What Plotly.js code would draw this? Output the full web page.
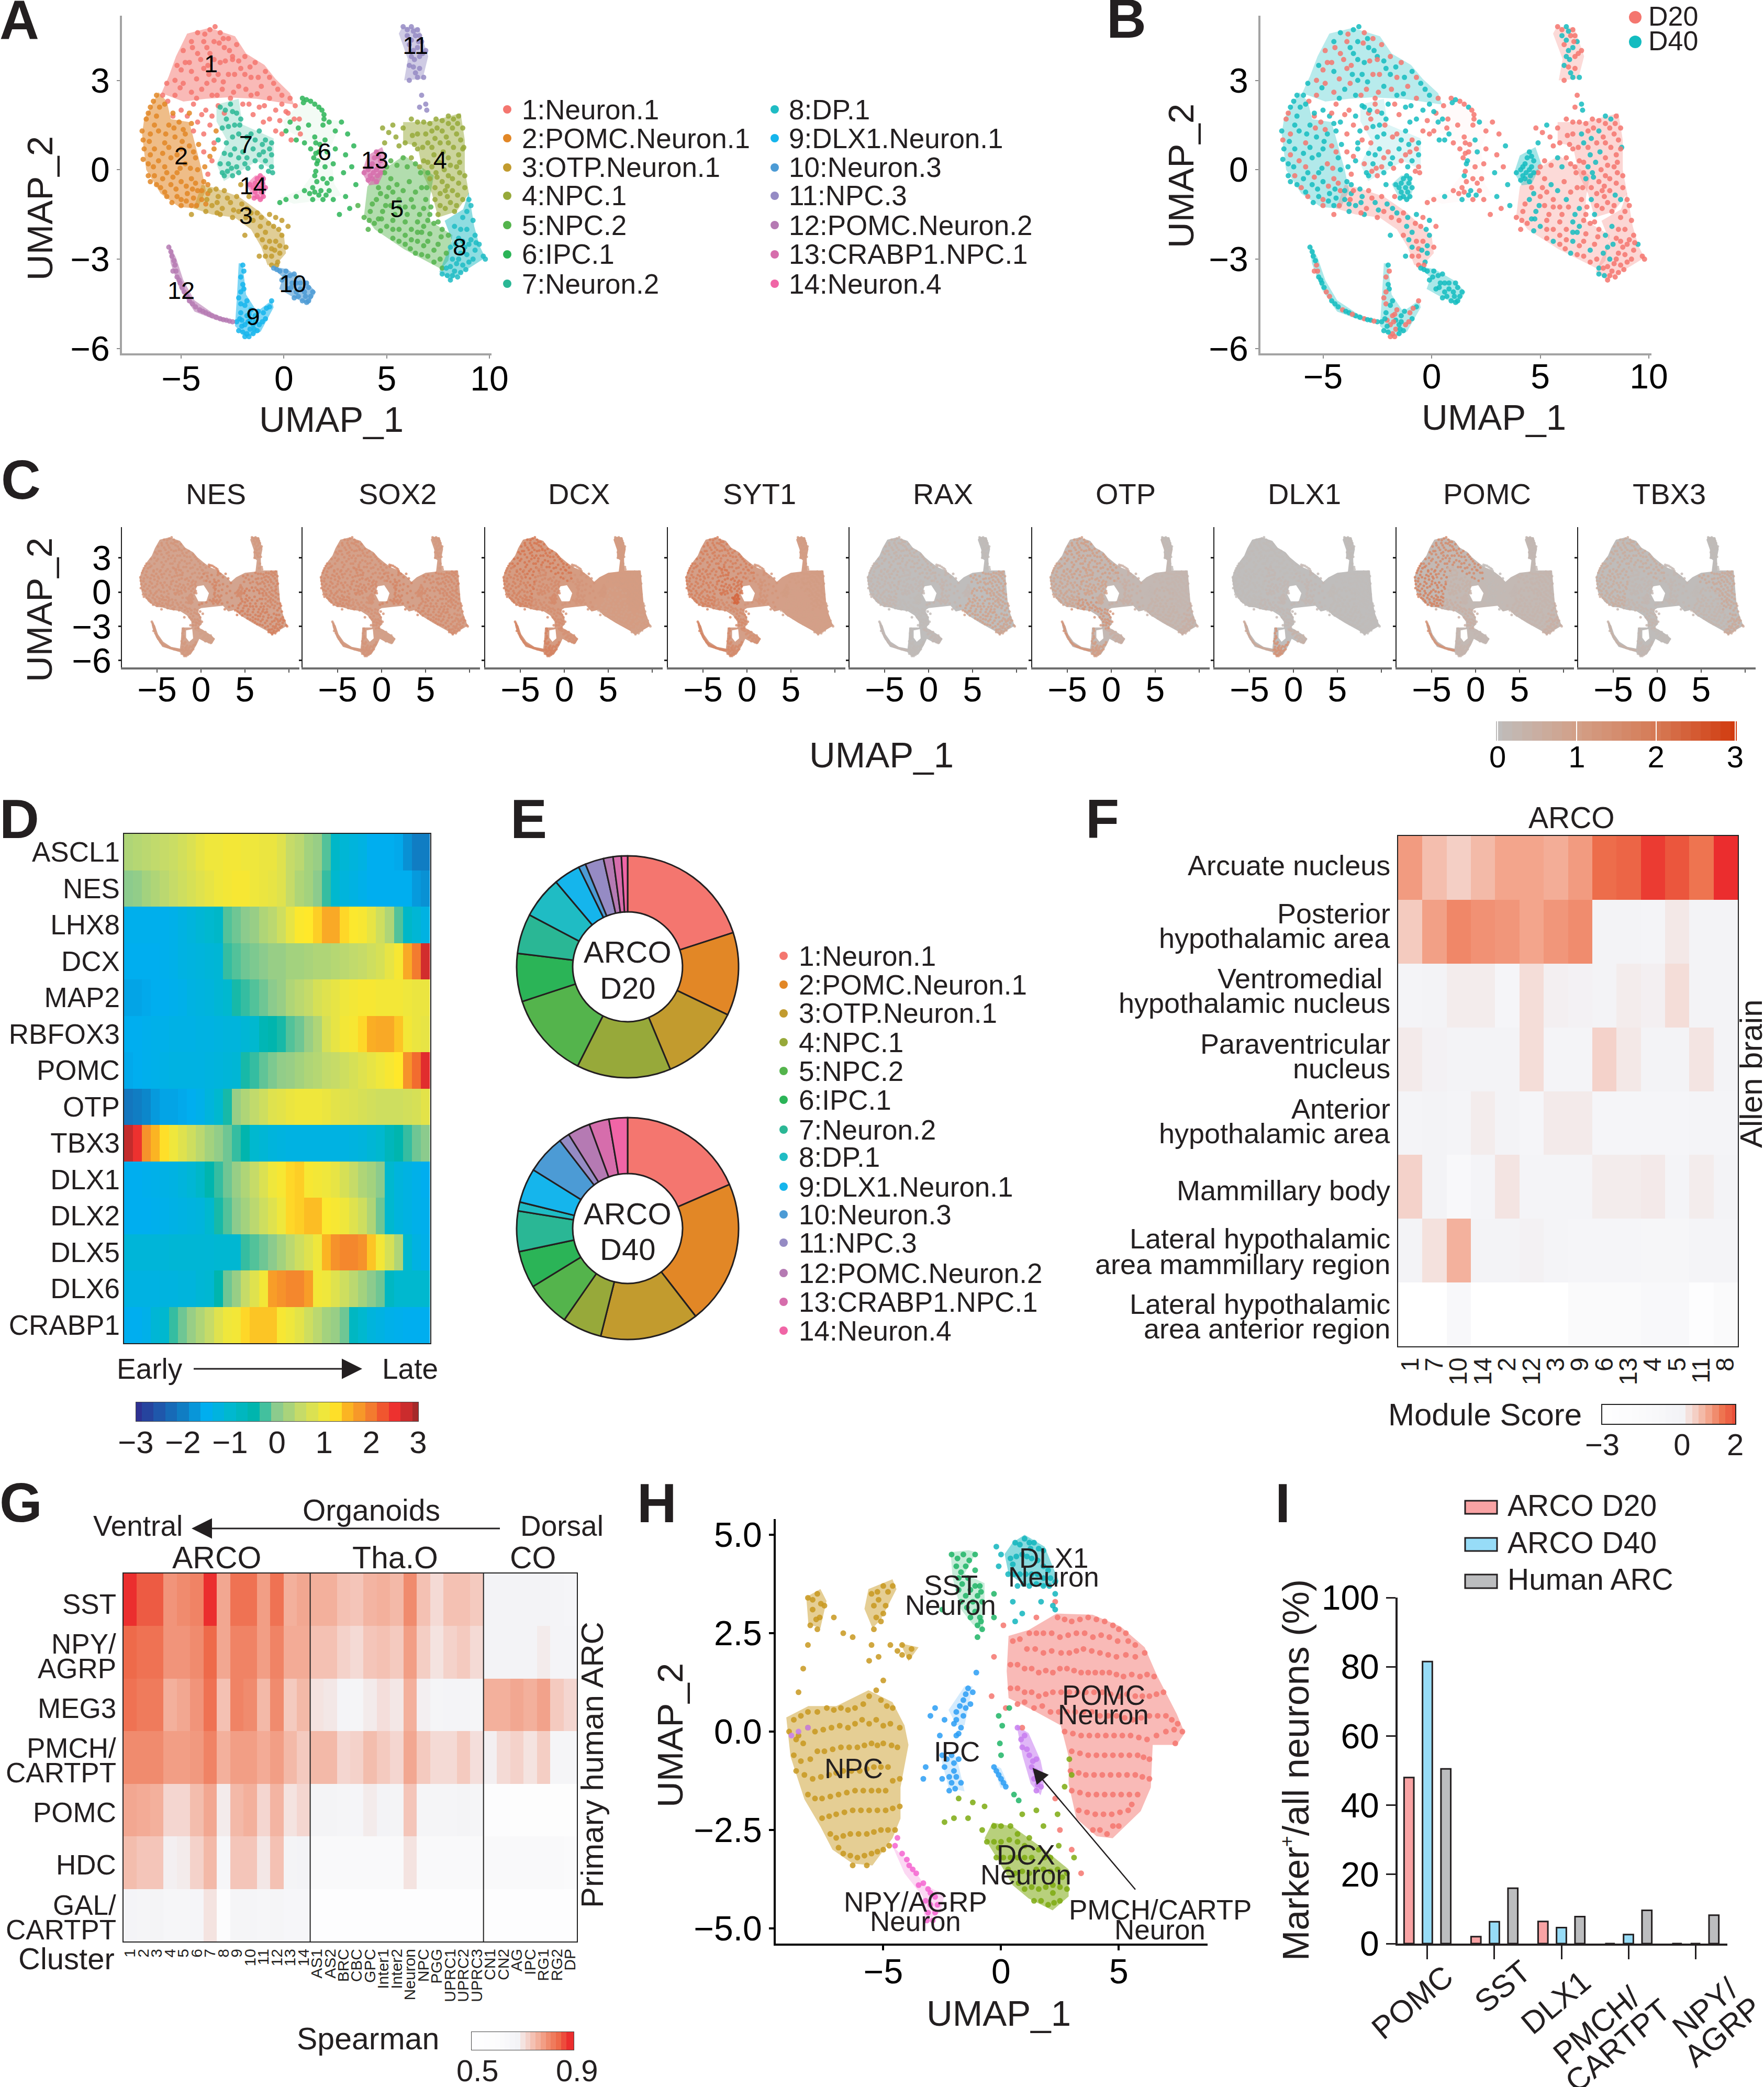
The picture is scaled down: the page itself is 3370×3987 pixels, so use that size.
<!DOCTYPE html>
<html>
<head>
<meta charset="utf-8">
<script src="https://cdn.plot.ly/plotly-3.0.1.min.js"></script>
<style>html,body{margin:0;padding:0;background:#fff}</style>
</head>
<body>
<div id="fig" style="width:3370px;height:3987px"></div>
<script>
var W = 3370, H = 3987;
var FONT = 'Liberation Sans, Arial, sans-serif';
var INK = '#231f20';

var clusterNames = ['1:Neuron.1','2:POMC.Neuron.1','3:OTP.Neuron.1','4:NPC.1','5:NPC.2','6:IPC.1','7:Neuron.2','8:DP.1','9:DLX1.Neuron.1','10:Neuron.3','11:NPC.3','12:POMC.Neuron.2','13:CRABP1.NPC.1','14:Neuron.4'];
var clusterColors = ['#f4766f','#e28726','#c29b2e','#97a93a','#54b44c','#2bb457','#2ab795','#1fbcc4','#15b5ec','#4c9bd5','#958bc4','#b57ab3','#d66dac','#f065a6'];
var polyOpacity = [.5,.55,.5,.5,.45,.06,.25,.5,.55,.6,.45,.6,.65,.55];

// cluster outlines (UMAP units, x,y,x,y...)
var polyA1 = [-3.63,4.76,-2.38,4.48,-1.84,3.9,-.95,3.52,-.41,3.05,.3,2.57,.48,2.19,-1.31,2.38,-2.74,2.43,-3.81,2.38,-4.89,2.29,-5.96,2.57,-5.6,3.14,-5.25,3.81,-4.71,4.57];
var polyA2 = [-6.1,2.6,-6.8,1.7,-6.9,1.2,-6.7,0,-6,-.8,-5.1,-1.25,-4.2,-1.3,-3.8,-.7,-4,0,-4.3,.8,-4.6,1.6,-5.5,1.7,-5.7,2.3];
var polyA3 = [-4,-.5,-3.4,-.6,-2.2,-.9,-1.2,-1.4,-.6,-1.8,0,-2.2,.1,-2.8,-.4,-3.2,-.8,-3.2,-1.1,-2.6,-1.6,-2,-2.4,-1.6,-3.5,-1.5,-4.4,-1.3];
var polyA4 = [5.8,1.6,7,1.6,8.6,1.9,8.8,1,8.8,0,9,-.8,8.4,-1.4,7.5,-1.6,7.2,-.8,6.8,-.2,6.5,.8,5.8,.9];
var polyA5 = [4.42,-.19,5.85,.48,7.29,-.19,7.1,-.95,7.1,-1.71,8.2,-2.19,8,-3.05,7.65,-3.33,5.85,-2.67,4.42,-2,3.9,-1.52,4.06,-.57];
var polyA6 = [-.05,1.62,1.02,2.43,1.92,2.05,2.1,1.71,2.81,1.62,2.27,.76,2.45,-.48,2.81,-.86,1.56,-1.05,.48,-1.14,-.23,-.95,.84,-.67,1.56,0,1.38,.86,.13,1.33];
var polyA7 = [-3.28,2.19,-2.2,2.38,-2.02,1.52,-.5,1.05,-.5,0,-1.31,.29,-2.92,-.38,-3.28,.19,-2.74,.95,-3.28,1.62];
var polyA8 = [8.99,-.76,9.26,-1.9,9.53,-2.57,9.8,-2.95,8.72,-3.43,8.1,-3.71,7.56,-3.43,8.18,-2.38,7.82,-1.71,8.72,-1.33];
var polyA9 = [-2.02,-3.14,-1.84,-4.19,-1.31,-4.76,-.59,-4.38,-.5,-4.62,-1.13,-5.43,-1.84,-5.62,-2.38,-5.24,-2.29,-4.29,-2.2,-3.14];
var polyA10 = [-.59,-3.24,.13,-3.33,1.02,-3.71,1.56,-4.1,1.2,-4.52,.48,-4.29,-.23,-4,-.05,-3.62];
var polyA11 = [5.77,4.81,6.57,4.76,7.02,3.81,6.75,3.05,5.85,3,6.03,3.71,5.59,4.57];
var polyA12 = [-5.6,-2.48,-5.25,-2.95,-4.89,-3.71,-4.35,-4.38,-3.46,-4.81,-2.47,-5.1,-3.28,-5.05,-4.35,-4.76,-5.07,-4,-5.51,-3.14];
var polyA13 = [4.78,.76,5.05,.19,4.6,-.48,4.15,-.52,3.8,-.1,4.06,.48];
var polyA14 = [-1.4,-.19,-.95,-.19,-.86,-.67,-1.04,-1.05,-1.49,-.95,-1.84,-.48];

// cell positions, per cluster
var ptsA1 = [-3.6,4.7,-3.1,4.6,-4.2,4.6,-2.7,4.4,-3.4,4.3,-3.9,4.3,-4.5,4.3,-2.3,4.2,-2.9,4.1,-4.9,4,-3.6,3.9,-4.2,3.9,-2.5,3.8,-1.9,3.8,-3.1,3.6,-4.8,3.6,-5.2,3.5,-1.4,3.6,-2.1,3.4,-3.9,3.4,-4.5,3.3,-2.7,3.2,-.9,3.3,-1.6,3.1,-3.4,3,-5.3,3,-5.7,2.9,-4.9,2.9,-.5,2.9,-1.1,2.8,-2.2,2.8,-3,2.7,-4,2.7,-4.5,2.6,-5.9,2.5,-5.3,2.5,-3.5,2.5,-2.6,2.4,-1.6,2.5,-.7,2.4,-.1,2.5,.3,2.4,-1.2,2.1,-4.4,2.2,-5,2,-3.8,2,-.4,2,.2,1.9,.5,1.7,-5.4,1.8,-4.2,1.6,-3.6,1.5,.8,1.2,-2.5,3.7,-3.2,3.2,-3.7,3.5,
    -3.35,4.8,-3.85,4.55,-2.95,4.4,-3.15,4.25,-3.75,4.1,-4.45,4.1,-2.65,4,-4.05,3.7,-3.4,3.7,-2.85,3.65,-2.2,3.65,-4.6,3.6,-1.65,3.45,-5,3.35,-3.65,3.2,-2.4,3.2,-1.9,3.2,-4.25,3.05,-1.25,3.1,-.7,3.1,-2.95,2.95,-3.75,2.9,-5.05,2.75,-2.45,2.6,-.3,2.7,-1.85,2.7,-1.3,2.55,-3.25,2.5,-4.25,2.4,-5.65,2.3,-.95,2.15,-1.7,2.2,-.1,2.2,.55,2.15,-3.2,2.15,-2.9,1.9,-4.7,1.8,-4,1.85,-3.5,1.8,-1.5,1.85,-.7,1.7,-.2,1.65,.1,1.95,.75,1.7,-4.4,1.3,-3.9,1.2,-3.4,.9,-3.9,.6,-3.5,.3,-3.7,-.15,-1,1.6,-.4,1.3,-2,2.2,-.1,1.2,.35,1];
var ptsA2 = [-6.2,2.5,-6.5,2.1,-6.7,1.7,-6.2,1.8,-6.9,1.3,-6.5,1.2,-6.1,1.3,-5.6,1.5,-5.1,1.6,-4.8,1.2,-5.3,1.1,-5.8,.9,-6.3,.7,-6.8,.7,-4.6,.8,-5,.7,-5.5,.4,-6.1,.3,-6.6,.2,-4.3,.4,-4.8,.2,-5.2,-.1,-5.7,-.1,-6.3,-.2,-6.6,-.2,-4.2,0,-4.5,-.3,-5,-.4,-5.5,-.5,-6,-.6,-6.2,-.5,-3.9,-.4,-4.2,-.7,-4.7,-.8,-5.2,-.9,-5.7,-.9,-4,-1,-4.5,-1.2,-5,-1.2,-3.7,-.8,-5.4,1.9,-4.9,1.35,-6.55,.95,-5.9,.55,-5.4,-.25,-4.4,-.95,
    -6.35,2.3,-6.6,1.9,-6.05,2.1,-5.8,2.2,-6.85,1,-6.3,1.5,-5.75,1.2,-5.35,1.4,-4.5,1.55,-5.6,.75,-6.5,.5,-6.85,.35,-5.2,.5,-4.4,.6,-4.95,.95,-4.15,.85,-5.8,.1,-6.35,.1,-5.05,.05,-4.55,.05,-6.5,-.4,-5.9,-.3,-4.75,-.55,-5.25,-.65,-5.8,-.75,-4.3,-.45,-4,-.7,-4.45,-.65,-5,-1,-5.45,-1.1,-3.8,-1.15,-4.25,-1.2,-4.75,-1.05,-3.85,.1,-3.6,.45,-3.4,.7,-3.3,1.3,-4.6,1.9,-3.7,-.5];
var ptsA3 = [-3.6,-.7,-3.2,-.9,-2.9,-.7,-3.5,-1.2,-3,-1.3,-2.6,-1.1,-2.3,-.9,-3.8,-1.4,-2.2,-1.4,-1.8,-1.3,-1.5,-1.7,-1.1,-1.6,-1.3,-2.2,-.9,-2.1,-.5,-1.9,-.9,-2.6,-.4,-2.4,-.1,-2.2,-.6,-2.9,-.2,-2.8,-.6,-3.2,-.3,-3.1,.1,-2.6,-1.2,-2.9,-4.5,-1.5,-3.1,-1.5,-2.5,-1.6,-.7,-1.5,.2,-1.9,-2.1,-.5,-1.7,-.9,
    -3.3,-.65,-3.75,-1,-3.25,-1.1,-2.75,-.95,-2.45,-1.35,-3.25,-1.45,-2.05,-1.15,-1.85,-1.6,-1.6,-1.45,-1.3,-1.45,-1.15,-1.9,-.75,-1.8,-1.05,-2.35,-.7,-2.4,-.25,-2,-.6,-2.65,-.2,-2.55,-.9,-2.9,-.45,-2.7,-.35,-3.2,-1.9,-2.2,-.4,-1.6,-.1,-1.7];
var ptsA4 = [6.2,1.7,6.8,1.6,7.4,1.7,8,1.8,8.5,1.8,8.7,1.4,8.2,1.4,7.7,1.3,7.2,1.3,6.5,1.2,5.8,1.4,5.3,1.5,8.6,1,8,.9,7.6,.9,7,.9,6.5,.7,8.5,.5,8,.4,7.3,.5,6.8,.3,8.4,.1,7.8,0,7.2,.1,8.8,-.2,8.2,-.3,7.7,-.4,7.1,-.3,8.8,-.6,8.2,-.7,7.6,-.8,8.7,-1,8.1,-1.1,7.6,-1.2,8.3,-1.4,7.5,-1.5,6.6,.1,5.9,.9,4.8,1.4,8.75,.75,7.95,-.9,6.2,.4,5.6,.8,7.4,-.1,
    6.5,1.6,7.1,1.55,7.7,1.65,8.25,1.7,8.45,1.55,8,1.55,7.45,1.4,6.9,1.2,6.25,1.15,8.4,1.2,7.9,1.1,7.35,1.05,6.75,.75,8.7,.7,8.25,.75,7.75,.6,7.2,.75,8.55,.25,8.1,.15,7.55,.25,7,.25,8.55,-.1,8,-.2,7.45,-.25,8.5,-.45,7.95,-.55,7.35,-.6,8.45,-.85,7.85,-.7,8.4,-1.2,7.85,-1.3,7.35,-1,6.35,.85,5.45,1.1,5.1,1.25,4.9,.9];
var ptsA5 = [4.6,-.6,5.2,-.3,5.8,.4,6.4,.2,7,-.1,5.5,-.5,6.1,-.4,6.7,-.6,4.5,-1,5,-.9,5.6,-1,6.2,-1,6.9,-1,4.2,-1.4,4.8,-1.4,5.4,-1.5,6,-1.5,6.6,-1.5,7.1,-1.5,4.4,-1.8,5,-1.9,5.6,-2,6.2,-2,6.8,-1.9,7.3,-1.8,7.7,-2,8,-2.2,5.3,-2.3,5.9,-2.5,6.5,-2.4,7,-2.4,7.5,-2.5,6.4,-2.8,7,-2.9,7.6,-3,7.9,-2.8,3.9,-1.6,4.1,-2,3.6,-1.2,5.2,.3,4.9,-.1,6.7,-2.1,5.2,-1.2,5.9,-1.25,4.6,-1.65,
    5,.1,5.5,.15,6,.1,6.65,-.1,5.1,-.6,5.8,-.7,6.4,-.75,6.95,-.6,4.7,-.8,5.3,-.75,4.3,-1.15,4.95,-1.2,5.6,-1.25,6.3,-1.25,6.8,-1.3,7.15,-1.25,4.15,-1.7,4.75,-1.65,5.3,-1.7,5.9,-1.75,6.5,-1.75,7,-1.7,7.5,-1.75,4.7,-2.05,5.3,-2,5.9,-2.2,6.5,-2.1,7.1,-2.15,7.65,-2.25,5.6,-2.4,6.2,-2.35,6.8,-2.55,7.3,-2.7,6.7,-2.85,7.3,-3.1,7.7,-3.3,6.15,-2.65];
var ptsA6 = [.9,2.4,1.3,2.3,1.7,2.1,1.95,1.85,1.9,1.5,.3,1.6,.7,1.4,1.2,1.5,2.2,1.6,2.8,1.6,.1,1.3,.6,1,1,.9,1.5,1.1,2,1,2.5,1.3,3.1,1.2,3.4,.8,1.3,.7,1.7,.6,2.1,.6,2.5,.7,3,.5,1.6,.2,2,.1,2.4,.2,1.5,-.2,1.9,-.3,2.3,-.3,2.9,-.1,3.3,.1,1.4,-.6,1.8,-.7,2.2,-.7,1,-.7,1.4,-1,1.9,-1,2.4,-1,.6,-.9,.1,-1,-.2,-1.1,3,-.9,3.2,-1.3,2.7,-1.5,3.5,-.5,2.1,-.45,1.75,.85,
    1.1,2.35,1.5,2.2,1.85,2,.95,2.25,1.95,1.7,1.55,.55,1.65,.3,1.55,-.05,1.6,-.4,1.7,-.85,1.25,-.8,1.5,-.75,2.05,-.85,1.55,.9,1.45,.4];
var ptsA7 = [-3.1,2.1,-2.6,2.2,-2.3,1.9,-2.8,1.7,-2.4,1.5,-3,1.4,-2.2,1.2,-1.8,1.1,-1.4,1,-.9,1,-.6,.9,-2.8,.9,-2.4,.7,-2,.6,-1.5,.7,-1,.6,-.6,.5,-3.1,.2,-2.7,.2,-2.3,.1,-1.9,.2,-1.4,.3,-.9,.3,-.6,.1,-2.9,-.2,-2.5,-.2,-1.2,1.3,-3.2,1,-2.1,1.7,-.55,-.1,
    -2.85,2,-2.5,1.95,-2.7,1.45,-2.15,1.5,-2.5,1.1,-1.6,1.2,-1.05,.85,-.7,.7,-2.6,.5,-2.2,.4,-1.8,.4,-1.2,.5,-2.9,.55,-2.75,-.05,-2.2,-.1,-1.75,.05,-1.1,.1,-.75,-.05,-3,-.1,-2.55,.05];
var ptsA8 = [9,-1,8.9,-1.4,9.2,-1.7,8.7,-1.6,8.3,-1.9,8.9,-2,9.3,-2.2,8.5,-2.3,9,-2.5,8.1,-2.6,8.6,-2.8,9.3,-2.7,9.7,-2.9,9.8,-3,8.2,-3,8.7,-3.2,9,-3.1,7.9,-3.3,8.3,-3.4,7.7,-3.5,8.1,-3.7,8.6,-3.45,8.2,-3.55,9.2,-3,9.5,-2.5,
    9.1,-1.2,8.6,-2,9.1,-2.35,8.8,-2.6,8.35,-2.5,8.9,-2.85,8.4,-3.15,8.85,-3.35,8.45,-3.6,7.95,-3.55,8.1,-3.25,8.7,-2.4,9.35,-2.45,8.5,-3];
var ptsA9 = [-2,-3.2,-2.1,-3.6,-1.95,-4,-2.2,-4.3,-1.8,-4.4,-1.6,-4.7,-2.1,-4.8,-1.8,-4.9,-1.4,-4.9,-1,-4.8,-.7,-4.6,-.6,-4.4,-2.3,-5.1,-1.9,-5.2,-1.5,-5.2,-1.2,-5.2,-2.2,-5.4,-1.8,-5.5,-1.5,-5.5,-1.9,-5.6,-1.3,-5.4,-2.1,-4.5,-.9,-5,-2.05,-5.05,-1.65,-5.05,
    -1.95,-3.4,-2,-3.85,-2.1,-4.1,-1.9,-4.55,-1.7,-4.85,-1.25,-4.75,-.85,-4.65,-2.15,-5,-1.75,-5.1,-1.4,-5.1,-1.05,-5.1,-2.05,-5.25,-1.65,-5.35,-2,-5.45,-1.7,-5.6,-1.45,-5.35];
var ptsA10 = [-.5,-3.3,-.2,-3.4,.1,-3.4,.5,-3.5,-.1,-3.7,.4,-3.8,.8,-3.8,1.1,-3.8,.2,-4,.6,-4.1,1,-4.1,1.4,-4.1,.5,-4.3,.9,-4.4,1.2,-4.4,1.3,-4.25,
    -.35,-3.35,.3,-3.55,.05,-3.6,.6,-3.8,.35,-3.95,.8,-4,1.2,-3.95,.7,-4.25,1.05,-4.25,1.1,-4.45];
var ptsA11 = [5.8,4.8,6.2,4.8,6.5,4.7,6,4.5,6.4,4.5,6.7,4.3,6.1,4.2,6.5,4.1,6.9,4,6.2,3.8,6.6,3.8,6.1,3.5,6.6,3.4,6.5,3.1,6.1,3,6.8,3.1,6.7,2.5,6.9,2.2,6.6,2.1,6.95,2,
    6,4.7,6.3,4.65,6.6,4.5,6.2,4.35,6.55,4.3,6.3,4,6.75,3.9,6.35,3.7,6.3,3.45,6.4,3.25];
var ptsA12 = [-5.6,-2.6,-5.45,-2.9,-5.3,-3.2,-5.2,-3.6,-5.05,-3.8,-4.85,-4.1,-4.6,-4.4,-4.3,-4.6,-4.1,-4.7,-3.8,-4.8,-3.5,-4.9,-3.1,-5,-2.8,-5.05,-2.5,-5.1,-5.4,-3.4,
    -5.5,-2.75,-5.35,-3.05,-5.25,-3.4,-5.1,-3.7,-4.95,-3.95,-4.7,-4.25,-4.45,-4.5,-3.95,-4.75,-3.65,-4.85,-3.3,-4.95,-2.95,-5.03,-2.65,-5.08];
var ptsA13 = [4.5,.6,4.7,.3,4.3,.2,4.5,0,4.1,0,4.7,-.1,4.3,-.3,4.5,-.4,3.9,-.1,
    4.6,.45,4.4,.4,4.2,.1,4.6,.1,4.35,-.1,4.55,-.2,4.2,-.2,4.1,-.35];
var ptsA14 = [-1.3,-.3,-1,-.3,-1.5,-.6,-1.2,-.6,-.9,-.6,-1.3,-.9,-1,-.9,
    -1.15,-.2,-1.4,-.45,-1.05,-.45,-1.65,-.5,-1.4,-.75,-1.1,-.75,-1.45,-.95,-1.15,-1];
var polysA = [polyA1,polyA2,polyA3,polyA4,polyA5,polyA6,polyA7,polyA8,polyA9,polyA10,polyA11,polyA12,polyA13,polyA14];
var ptsA = [ptsA1,ptsA2,ptsA3,ptsA4,ptsA5,ptsA6,ptsA7,ptsA8,ptsA9,ptsA10,ptsA11,ptsA12,ptsA13,ptsA14];

var labelAx = [-3.55,-5,-1.85,7.6,5.5,1.97,-1.85,8.55,-1.5,.43,6.4,-5,4.42,-1.5];
var labelAy = [3.48,.38,-1.62,.24,-1.38,.52,.78,-2.67,-5,-3.9,4.1,-4.12,.24,-.62];

// panel B: day of sampling seen per cluster, r = D20, t = D40, repeated along the cluster's cells
var dayPattern = ['tr','ttr','rt','rrrt','rrt','rrt','tr','rrrrt','tr','t','rt','ttr','t','t'];
var dayColors = {r:'#f4766f', t:'#14bcc0'};

// silhouette of the whole map, used as the backing of the gene panels
var outlineMain = [-3.6,4.8,-2.4,4.5,-1.8,3.9,-.9,3.5,-.4,3.05,.3,2.6,1,2.2,1.9,1.9,2.8,1.4,3.4,.9,4,1.3,5,1.7,6.2,1.8,6.35,2.8,6,3,6,3.7,5.6,4.6,5.8,4.85,6.6,4.8,7,3.8,6.8,3,6.85,1.9,8.7,1.9,8.85,.5,9,-.8,9.3,-1.9,9.8,-2.95,8.7,-3.45,8.1,-3.75,7.5,-3.4,5.85,-2.7,4.4,-2,3.9,-1.55,3.1,-1.7,2.5,-1.2,1.2,-1.3,0,-1.4,-.4,-1.6,0,-2.2,.1,-2.8,-.3,-3.1,.2,-3.3,1,-3.7,1.6,-4.1,1.2,-4.55,.4,-4.35,-.2,-4.1,-.5,-4.6,-1.1,-5.4,-1.85,-5.65,-2.45,-5.25,-3.3,-5.05,-4.4,-4.8,-5.1,-4,-5.55,-3.1,-5.65,-2.5,-5.25,-2.9,-4.9,-3.7,-4.3,-4.35,-3.4,-4.8,-2.4,-4.95,-2.3,-4.3,-2.2,-3.1,-1.1,-3.1,-1.1,-2.6,-1.6,-2.05,-2.4,-1.65,-3.5,-1.55,-4.4,-1.35,-5.1,-1.3,-6,-.85,-6.75,0,-7,1.2,-6.8,1.75,-6.1,2.7,-5.6,3.2,-5.25,3.85,-4.7,4.6];
var outlineHole = [-.5,.5,.3,.6,.9,-.1,.6,-.8,-.3,-.8,-.7,-.2];
var outlineHole2 = [-1.7,-3.35,-1,-3.25,-.9,-4.05,-1.35,-4.35,-1.7,-4];

var geneNames = ['NES','SOX2','DCX','SYT1','RAX','OTP','DLX1','POMC','TBX3'];
var geneBackColor = ['#d3a48f','#d4a18a','#d59c82','#d49f88','#bfbdbc','#c3b8b3','#bfbdbc','#c3b9b4','#bfbcba'];
var exprNES  = [1.3,1.4,1.3,1.7,1.9,1.7,1.4,1.9,1.2,1,1.2,1.2,1.6,1.3];
var exprSOX2 = [1.5,1.6,1.4,1.6,1.6,1.7,1.6,1.5,1.3,1,1.2,1.2,1.5,1.4];
var exprDCX  = [2.1,1.8,1.5,1.1,1,1.3,1.6,1,1.8,1.4,1.1,1.7,1.2,1.6];
var exprSYT1 = [1.9,1.9,1.6,1.1,1,1.3,2.1,1,1.6,1.4,1.1,1.7,1.1,2.4];
var exprRAX  = [.4,.3,.1,.9,1,.3,.2,.9,.1,.2,.1,.2,.2,.1];
var exprOTP  = [1.1,.9,1.3,.3,.4,.5,1,.5,1.1,.5,.1,1.3,.2,.8];
var exprDLX1 = [.1,.1,.2,.05,.1,.2,.2,.05,1.4,.4,.1,.7,.1,.2];
var exprPOMC = [1.6,1.9,.5,.3,.3,.1,.4,.5,.3,.2,.2,1.4,.2,.3];
var exprTBX3 = [.6,.6,.3,.7,.3,.2,.2,.7,.2,.1,.1,.4,.1,.2];
var exprAll = [exprNES,exprSOX2,exprDCX,exprSYT1,exprRAX,exprOTP,exprDLX1,exprPOMC,exprTBX3];
var keyC = [0,.125,.25,.375,.5,.625,.75,.875,1,1.125,1.25,1.375,1.5,1.625,1.75,1.875,2,2.125,2.25,2.375,2.5,2.625,2.75,2.875,3];
var scaleC = [[0,'#bfbdbc'],[.33,'#d2a088'],[.67,'#d67a55'],[1,'#d13a0e']];

// panel D
var genesD = ['ASCL1','NES','LHX8','DCX','MAP2','RBFOX3','POMC','OTP','TBX3','DLX1','DLX2','DLX5','DLX6','CRABP1'];
var rowASCL1 = [.3,.35,.4,.45,.5,.55,.65,.75,.9,1,1,1.05,1.05,1,1,.95,.95,.8,.5,.4,.2,.1,-.2,-.9,-1.1,-1.2,-1.3,-1.5,-1.5,-1.5,-1.55,-1.8,-2,-2];
var rowNES = [0,.05,.2,.3,.4,.5,.6,.7,.8,.9,1,1.05,1.1,1.1,1,.95,.9,.8,.5,.3,.2,0,-.3,-1,-1.2,-1.3,-1.4,-1.5,-1.5,-1.5,-1.5,-1.5,-1.7,-1.8];
var rowLHX8 = [-1.45,-1.45,-1.45,-1.45,-1.45,-1.4,-1.3,-1.2,-1.1,-1,-.9,-.2,-.1,0,.1,.3,.4,.6,.9,1.15,1.2,1.35,1.6,1.6,1.3,1.15,1.1,.9,.6,.3,-.2,-.9,-1.1,-1.3];
var rowDCX = [-1.5,-1.5,-1.5,-1.5,-1.45,-1.4,-1.3,-1.25,-1.2,-1.15,-1.1,-.3,-.2,-.1,-.05,0,.1,.1,.2,.2,.25,.3,.3,.35,.4,.45,.5,.6,.7,.9,1.1,1.6,2,2.7];
var rowMAP2 = [-1.6,-1.6,-1.55,-1.5,-1.5,-1.45,-1.4,-1.3,-1.25,-1.2,-1.1,-1,-.4,-.3,-.2,-.1,0,.1,.3,.4,.5,.7,.8,.9,1,1.05,1.1,1.1,1.05,1.05,1.05,1,.95,.95];
var rowRBFOX3 = [-1.5,-1.5,-1.45,-1.4,-1.4,-1.35,-1.35,-1.35,-1.3,-1.3,-1.25,-1.2,-1.2,-1.1,-1,-.6,-.5,-.4,-.2,-.1,.1,.3,.7,.9,1.05,1.1,1.3,1.55,1.6,1.6,1.4,1.05,.95,.9];
var rowPOMC = [-1.55,-1.5,-1.45,-1.4,-1.35,-1.3,-1.3,-1.3,-1.3,-1.25,-1.2,-1.15,-1.1,-.4,-.3,-.15,-.05,.05,.1,.2,.3,.35,.45,.5,.6,.7,.8,.9,1,1.1,1.2,1.8,2.1,2.6];
var rowOTP = [-2.1,-2,-1.9,-1.7,-1.6,-1.6,-1.55,-1.5,-1.4,-1.2,-1,-.4,.1,.3,.45,.6,.8,.85,.95,1,1,1,.95,.85,.8,.75,.7,.65,.6,.6,.6,.65,.7,.85];
var rowTBX3 = [2.8,2.5,1.8,1.5,1.25,1,.8,.6,.4,.2,.05,-.1,-.3,-.5,-1,-1.1,-1.2,-1.25,-1.3,-1.3,-1.3,-1.3,-1.3,-1.3,-1.3,-1.25,-1.2,-1.1,-1,-.7,-.5,-.3,-.1,0];
var rowDLX1 = [-1.5,-1.5,-1.45,-1.4,-1.35,-1.3,-1.2,-1.1,-.9,-.5,-.3,-.1,.1,.3,.5,.75,1,1.1,1.3,1.35,1.1,1.05,1,.9,.7,.5,.3,.2,0,-1,-1.2,-1.3,-1.4,-1.5];
var rowDLX2 = [-1.5,-1.5,-1.5,-1.45,-1.4,-1.35,-1.3,-1.25,-1.2,-1,-.4,-.2,0,.2,.4,.6,.8,1,1.3,1.35,1.45,1.45,1.15,1.1,1,.8,.6,.3,-.1,-1,-1.2,-1.3,-1.4,-1.45];
var rowDLX5 = [-1.15,-1.15,-1.15,-1.15,-1.15,-1.1,-1.1,-1.1,-1.1,-1.1,-1.05,-1.05,-1.05,-.3,-.2,-.1,0,.2,.4,.6,.8,1,1.5,1.8,1.9,1.9,1.8,1.4,1.05,.7,.3,-1,-1.3,-1.4];
var rowDLX6 = [-1.3,-1.3,-1.3,-1.3,-1.25,-1.25,-1.2,-1.2,-1.1,-1.05,-.5,-.1,.1,.5,.8,1.05,1.7,1.8,1.9,1.9,1.7,1.05,1,.8,.6,.4,.2,0,-.1,-.8,-1,-1,-1,-1];
var rowCRABP1 = [-1.5,-1.5,-1.4,-1.1,-1,-.3,-.1,.1,.3,.5,.8,1,1.05,1.3,1.4,1.4,1.4,1.1,1,.85,.6,.4,.2,.1,-.1,-.8,-1,-1.2,-1.3,-1.4,-1.45,-1.5,-1.5,-1.5];
var heatD = [rowASCL1,rowNES,rowLHX8,rowDCX,rowMAP2,rowRBFOX3,rowPOMC,rowOTP,rowTBX3,rowDLX1,rowDLX2,rowDLX5,rowDLX6,rowCRABP1];
var keyD = [-3,-2.75,-2.5,-2.25,-2,-1.75,-1.5,-1.25,-1,-.75,-.5,-.25,0,.25,.5,.75,1,1.25,1.5,1.75,2,2.25,2.5,2.75,3];
var scaleD = [[0,'#2e3192'],[.17,'#0f7fc4'],[.25,'#00aeef'],[.33,'#00b8d0'],[.42,'#00b5ad'],[.5,'#8ccb8d'],[.58,'#c4db6a'],[.67,'#f1e73a'],[.7,'#ffe82a'],[.75,'#fbb423'],[.83,'#f37e2f'],[.92,'#ed2e2f'],[1,'#a52a2a']];

// panel E, share of cells per cluster
var pieD20 = [20,12.1,11.6,13.7,12.5,7,5.8,6.1,3.9,1.05,2.7,1.4,1.2,.9];
var pieD40 = [18.5,21,14.4,5.75,6.6,5.4,5.9,1.3,5,5.7,1.55,3.3,2.9,2.7];
var legendEy = [1826,1881,1936,1991,2046,2101,2158,2210,2267,2320,2374,2432,2487,2542];

// panel F
var colsF = ['1','7','10','14','2','12','3','9','6','13','4','5','11','8'];
var rowArcuate = [1.1,.7,.5,.75,1,1,.9,1.1,1.6,1.7,2.3,1.9,1.5,2.5];
var rowPosterior = [.55,1.05,1.3,1.2,1.15,1,1.15,1.25,0,0,-.2,.15,0,0];
var rowVentro = [-.3,-.1,.1,.1,-.4,.3,.05,.02,0,.1,.05,.3,0,0];
var rowParav = [.12,.02,-.1,-.1,-.1,.3,-.3,-.3,.45,.15,0,-.1,.2,-.1];
var rowAnterior = [-.2,0,-.3,.1,-.05,-.4,.12,.12,-.4,-.4,-.4,-.4,-.3,-.3];
var rowMammillary = [.45,0,-1,-.3,.2,-.3,-.3,-.3,.1,.1,.13,-.2,.1,-.05];
var rowLateralM = [-.1,.25,.85,-.05,-.1,.03,-.2,-.5,-.5,-.5,-.6,-.6,-.2,-.2];
var rowLateralA = [-3,-3,-1,-3,-3,-3,-3,-1.5,-1.5,-1.5,-1,-1,-2.5,-1.5];
var heatF = [rowArcuate,rowPosterior,rowVentro,rowParav,rowAnterior,rowMammillary,rowLateralM,rowLateralA];
var keyF = [-3,-2.75,-2.5,-2.25,-2,-1.75,-1.5,-1.25,-1,-.75,-.5,-.25,0,.25,.5,.75,1,1.25,1.5,1.75,2];
var scaleF = [[0,'#ffffff'],[.364,'#f8f8fa'],[.545,'#f3f3f6'],[.636,'#f4cfc5'],[.727,'#f3a58c'],[.818,'#ee7450'],[.909,'#ea4f38'],[1,'#eb2d2e']];

// panel G
var colsG = ['1','2','3','4','5','6','7','8','9','10','11','12','13','14','AS1','AS2','BRC','CBC','GPC','Inter1','Inter2','Neuron','NPC','PGG','UPRC1','UPRC2','UPRC3','CN1','CN2','AG','IPC','RG1','RG2','DP'];
var gSST = [.89,.85,.85,.79,.8,.81,.89,.77,.83,.83,.78,.83,.76,.77,.76,.76,.74,.735,.755,.76,.75,.8,.74,.71,.74,.74,.73,.68,.68,.68,.68,.68,.67,.66];
var gNPY = [.84,.83,.83,.79,.79,.8,.84,.77,.81,.81,.78,.81,.765,.765,.74,.74,.72,.71,.735,.74,.73,.78,.725,.7,.72,.73,.71,.68,.68,.68,.68,.69,.67,.67];
var gMEG3 = [.83,.82,.82,.76,.77,.79,.83,.74,.81,.8,.75,.8,.73,.75,.7,.695,.67,.665,.69,.705,.695,.76,.685,.665,.67,.67,.665,.76,.76,.77,.76,.775,.73,.715];
var gPMCH = [.8,.8,.8,.78,.78,.785,.81,.76,.78,.78,.765,.78,.75,.73,.75,.75,.715,.72,.745,.73,.715,.77,.73,.71,.71,.73,.705,.685,.71,.72,.7,.725,.665,.665];
var gPOMC = [.77,.765,.76,.715,.715,.745,.77,.69,.75,.76,.715,.755,.7,.715,.675,.675,.665,.66,.69,.68,.675,.735,.665,.665,.665,.675,.665,.6,.59,.58,.58,.58,.58,.58];
var gHDC = [.745,.735,.735,.685,.69,.72,.75,.655,.735,.735,.695,.74,.675,.68,.63,.63,.63,.63,.63,.63,.63,.7,.63,.63,.63,.63,.63,.63,.63,.63,.63,.63,.63,.62];
var gGAL = [.67,.665,.675,.655,.655,.66,.7,.6,.665,.665,.655,.665,.65,.65,.56,.56,.56,.56,.56,.56,.56,.57,.56,.56,.56,.56,.56,.56,.56,.56,.56,.56,.56,.56];
var heatG = [gSST,gNPY,gMEG3,gPMCH,gPOMC,gHDC,gGAL];
var keyG = [.5,.52,.54,.56,.58,.6,.62,.64,.66,.68,.7,.72,.74,.76,.78,.8,.82,.84,.86,.88,.9];
var scaleG = [[0,'#ffffff'],[.25,'#fcfcfd'],[.45,'#f3f3f6'],[.55,'#f4d2ca'],[.65,'#f3b09c'],[.75,'#f08b6e'],[.85,'#ee6a4a'],[.95,'#eb2e2e'],[1,'#eb2d2e']];

// panel H
var namesH = ['POMC','NPC','DCX','DLX1','SST','IPC','PMCH','NPY'];
var colorsH = ['#f4766f','#c8981f','#7daa10','#11b5bd','#1fb566','#2a9df4','#c77cf0','#f564d0'];
var opacH = [.5,.48,.55,.5,.25,.2,.55,.25];
var polyHPOMC = [[2.36,3,3.89,2.97,5.08,2.67,6.1,2.14,6.61,1.44,7.46,.45,7.8,-.04,7.46,-.34,6.44,-.34,6.36,-1.42,5.93,-2.02,4.74,-2.71,4.06,-2.66,3.2,-2.21,2.87,-1.33,2.87,-.63,2.53,.16,1.34,.55,.32,.85,.24,1.54,.32,2.43,1.17,2.58]];
var polyHNPC = [[-9.12,.36,-8.18,.65,-6.99,.65,-5.63,1.05,-4.61,.75,-4.1,.16,-3.93,-.34,-4.27,-1.42,-4.27,-2.21,-4.61,-2.71,-5.46,-3.4,-6.31,-3.35,-7.16,-3,-7.67,-2.41,-8.35,-1.72,-8.94,-.63],[-8.27,3.42,-7.67,3.62,-7.41,3.32,-7.67,2.63,-8.18,2.73],[-5.63,3.62,-4.61,3.87,-4.44,3.62,-5.12,2.83,-5.46,2.63,-5.8,3.12],[-4.27,2.24,-3.5,2.14,-3.93,1.79]];
var polyHDCX = [[-.36,-2.31,.49,-2.41,1.85,-3,2.87,-3.5,2.87,-4.19,2.19,-4.54,1.17,-4.24,.49,-3.9,-.19,-3.2,-.7,-2.71]];
var polyHDLX1 = [[.49,4.8,1,5,1.85,4.7,2.45,3.82,1.85,3.67,1,3.72,.32,4.01,.15,4.51]];
var polyHSST = [[-2.14,4.56,-1.38,4.61,-1.04,4.56,-1.55,4.01,-.7,3.77,-.7,3.22,-.78,2.53,-1.21,2.73,-1.72,3.12,-2.06,3.92]];
var polyHIPC = [[-1.55,1.15,-1.21,1.15,-1.55,.16,-1.89,.16,-2.23,.55],[-2.57,-.63,-1.89,-.63,-1.55,-1.52,-2.23,-1.42],[-.36,-.83,0,-.93,.32,-1.38,-.02,-1.43]];
var polyHPMCH = [[.66,.16,1.17,-.04,1.68,-.73,1.85,-1.23,1.68,-1.62,1.26,-1.33,.92,-.63]];
var polyHNPY = [[-4.61,-2.91,-3.93,-3.3,-3.25,-3.9,-2.4,-4.14,-2.57,-4.59,-3.25,-4.84,-3.33,-4.19,-4.1,-3.6]];
var ptsHPOMC = [2.4,2.9,3,2.8,3.7,2.9,4.4,2.8,5,2.6,1.2,2.5,1.8,2.5,2.5,2.4,3.2,2.5,3.9,2.4,4.6,2.4,5.4,2.3,.5,2.3,1.1,2.1,1.8,2,2.9,2,3.5,2.1,4.2,2,4.9,1.9,5.7,1.9,6.1,2,.4,1.7,1,1.6,1.6,1.5,2.2,1.5,2.8,1.6,3.4,1.5,4,1.5,4.6,1.5,5.2,1.4,5.9,1.4,6.5,1.4,.4,1.1,1,1,1.6,.9,2.2,1,2.9,1,3.6,1,4.3,1,5,.9,5.7,.9,6.3,.9,6.9,1,.7,.7,1.4,.6,2.1,.5,2.8,.5,3.5,.5,4.2,.4,4.9,.4,5.6,.3,6.3,.4,7,.4,7.5,.2,2.7,0,3.4,-.1,4.1,-.1,4.8,-.1,5.5,-.1,6.2,-.2,7,0,7.7,0,7.4,-.3,3,-.5,3.7,-.6,4.4,-.6,5.1,-.6,5.8,-.6,6.3,-.7,2.95,-1,3.6,-1.1,4.3,-1.1,5,-1.1,5.7,-1.1,6.3,-1.2,3,-1.5,3.7,-1.6,4.4,-1.6,5.1,-1.6,5.8,-1.6,3.3,-2,4,-2.1,4.7,-2.1,5.4,-2,3.9,-2.5,4.5,-2.6,5,-2.4,.9,.1,.2,.6,2.3,-1.7,2.5,-2.5,3,-3,3.4,-3.6,.1,2.7,-.3,1.9,-.4,.9,1.5,2.9,2.3,3.3,
    2.7,2.85,3.35,2.85,4.05,2.85,4.75,2.7,5.3,2.5,1.5,2.5,2.15,2.5,2.85,2.45,3.55,2.5,4.25,2.45,4.95,2.3,5.7,2.2,.8,2.35,1.45,2.1,2.15,2.05,2.55,2,3.2,2.05,3.85,2.05,4.55,1.95,5.3,1.95,.7,1.7,1.3,1.6,1.9,1.55,2.5,1.6,3.1,1.55,3.7,1.5,4.3,1.5,4.9,1.45,5.55,1.45,6.2,1.45,.7,1.1,1.3,1,1.9,.95,2.55,1,3.25,1,3.95,1,4.65,.95,5.35,.95,6,.9,6.6,.95,1,.75,1.75,.65,2.45,.5,3.15,.5,3.85,.5,4.55,.4,5.25,.35,5.95,.35,6.65,.4,7.25,.3,3.05,-.05,3.75,-.1,4.45,-.1,5.15,-.1,5.85,-.15,6.6,-.1,7.35,.05,3.35,-.55,4.05,-.6,4.75,-.6,5.45,-.6,6.05,-.65,3.3,-1.05,3.95,-1.1,4.65,-1.1,5.35,-1.1,6,-1.15,3.35,-1.55,4.05,-1.6,4.75,-1.6,5.45,-1.6,3.65,-2.05,4.35,-2.1,5.05,-2.05,5.55,-1.85,4.2,-2.5,4.75,-2.4];
var ptsHNPC = [-8.2,3.4,-7.8,3.5,-7.5,3.2,-8,3.1,-7.7,2.9,-8.1,2.7,-7.8,2.6,-7.1,2.9,-6.7,2.5,-6.3,2.4,-8.2,2.2,-8.4,1.6,-8.6,1,-5.5,3.5,-5,3.7,-4.6,3.7,-5.4,3.2,-4.9,3.2,-5.1,2.8,-5.4,2.6,-5.5,2.2,-5.2,1.9,-5.6,1.8,-4.7,2.2,-4.2,2.2,-3.8,2.1,-3.9,1.9,-4.2,1.95,-5,1.3,-5.6,.9,-5.1,.8,-4.6,.6,-6.2,.6,-6.8,.6,-7.4,.6,-8.2,.5,-8.8,.3,-9,0,-8.7,-.2,-5.9,.3,-5.3,.3,-4.7,.2,-4.3,.1,-6.5,.1,-7.2,.1,-7.9,0,-8.4,-.3,-8.8,-.6,-5.5,-.3,-5,-.3,-4.4,-.4,-6.1,-.4,-6.8,-.4,-7.5,-.5,-8.1,-.7,-4.8,-.9,-5.4,-.9,-6,-1,-6.7,-1,-7.3,-1.1,-8.7,-1,-8,-1.2,-4.3,-1.2,-4.9,-1.5,-5.5,-1.5,-6.2,-1.5,-6.9,-1.6,-7.6,-1.7,-8.2,-1.6,-4.3,-1.9,-4.9,-2,-5.6,-2,-6.3,-2,-7,-2.1,-7.6,-2.2,-4.5,-2.5,-5.1,-2.5,-5.7,-2.6,-6.4,-2.6,-7,-2.7,-5,-3,-5.5,-3.1,-6.1,-3.2,-6.7,-3.1,-5.7,-3.4,-6.3,-3.4,
    -8,3.35,-7.65,3.25,-7.85,2.85,-5.25,3.55,-4.8,3.55,-5.2,3.35,-5,3,-5.3,2.9,-4.4,2.05,-5.3,1.05,-4.85,.65,-5.85,.7,-6.5,.55,-7.1,.55,-7.8,.5,-8.5,.4,-5.6,.2,-5,.15,-6.2,.2,-6.85,.15,-7.55,.05,-8.2,.1,-8.6,-.1,-5.25,-.35,-4.65,-.35,-5.8,-.35,-6.45,-.4,-7.15,-.45,-7.8,-.5,-8.5,-.75,-5.1,-.9,-5.7,-.95,-6.35,-1,-7,-1.05,-7.65,-1.15,-8.35,-1.1,-4.6,-1.25,-5.2,-1.5,-5.85,-1.5,-6.55,-1.55,-7.25,-1.65,-7.9,-1.7,-4.6,-1.95,-5.25,-2,-5.95,-2,-6.65,-2.05,-7.3,-2.15,-4.8,-2.5,-5.4,-2.55,-6.05,-2.6,-6.7,-2.65,-7.25,-2.6,-4.75,-2.9,-5.25,-3.05,-5.8,-3.15,-6.4,-3.15,-6.9,-2.95];
var ptsHDCX = [-.3,-2.4,.4,-2.4,-.6,-2.8,0,-2.8,.7,-2.8,1.2,-2.7,-.2,-3.2,.4,-3.2,1,-3.2,1.6,-3,2.1,-3.2,.6,-3.6,1.2,-3.6,1.8,-3.5,2.4,-3.5,2.8,-3.6,1,-4,1.6,-4,2.2,-3.9,2.8,-4,1.4,-4.3,2,-4.4,2.5,-4.3,-.8,-2.5,-1.4,-2.2,-2,-2.2,-1.2,-1.8,-.7,-1.9,-2.4,-2.3,1.8,-2.4,2.4,-2.1,2.7,-1.4,.9,-2.1,1.5,-2,-1.8,-1.7,2.45,-2.9,3.1,-3.2,2.9,-.7,3,-1.1,
    0,-2.4,.7,-2.6,-.3,-2.8,.35,-2.75,1,-2.9,-.1,-2.95,.1,-3.2,.7,-3.2,1.3,-3.2,1.85,-3.2,.3,-3.5,.9,-3.55,1.5,-3.5,2.1,-3.55,2.6,-3.7,1.3,-3.95,1.9,-3.95,2.5,-3.95,1.7,-4.3,2.25,-4.35,2.2,-4.1,.75,-3.85];
var ptsHDLX1 = [.6,4.8,1,4.9,1.4,4.8,1.8,4.6,.4,4.4,.9,4.5,1.3,4.4,1.8,4.2,.3,4,.8,4,1.3,4,1.8,3.9,2.3,3.8,-.2,4.7,-.1,4.2,.7,3.7,1.2,3.7,1.8,3.7,2.3,3.5,.5,3.3,.9,3,1.7,3.3,2.2,3.2,.6,2.8,2.3,3.1,0,4.5,
    .8,4.75,1.2,4.8,1.6,4.65,.65,4.45,1.1,4.45,1.55,4.35,2,4.1,.55,4,1.05,4,1.55,4,2.1,3.9,.95,3.75,1.5,3.75,2.05,3.7,.5,4.25,1.25,4.65];
var ptsHSST = [-2.1,4.5,-1.6,4.5,-1.1,4.5,-1.9,4.2,-1.5,4.2,-1.8,3.9,-1.4,3.9,-1.8,3.6,-1.3,3.6,-.9,3.7,-1.7,3.3,-1.2,3.3,-.8,3.3,-1.3,2.9,-.9,2.9,-.8,2.6,-1,2.4,-2.5,3.1,-.3,3.5,-.3,2.9,-1.1,4.1,-.1,.4,.05,.15,-.05,-.3,0,-.6,.55,-1.6,.75,-1.75,.35,.6,
    -1.85,4.4,-1.35,4.35,-1.7,4.05,-1.65,3.75,-1.1,3.7,-1.5,3.45,-1,3.45,-1.45,3.15,-1.1,3.05,-1,2.7,-.85,2.8,-.85,3.55];
var ptsHIPC = [-1.4,1.1,-1.2,1,-1.6,.8,-1.3,.7,-1.9,.5,-1.6,.4,-2,.2,-1.7,.1,-2.4,.3,-1.9,-.1,-2.6,-.1,-2.5,-.6,-2.1,-.6,-1.8,-.7,-2.4,-.9,-2,-1,-2.5,-1.2,-2.1,-1.3,-1.7,-1.3,-2.2,-1.5,-3.2,-.9,-3.3,-1.2,-.3,-.9,-.1,-1.1,.1,-1.3,.2,-1.4,-3,.4,-2.8,.6,-1.05,1.5,
    -1.5,.95,-1.75,.65,-1.5,.6,-1.9,.3,-1.8,-.05,-2.3,-.7,-2,-.8,-2.2,-1.15,-1.9,-1.15,-1.95,-1.45,-.2,-1,0,-1.2];
var ptsHPMCH = [.7,.1,1,-.1,.9,-.4,1.2,-.6,1.5,-.7,1.3,-.9,1.6,-1.1,1.4,-1.2,1.7,-1.4,1.5,-1.5,-8.9,-.1,-8.6,0,-8.2,.1,
    .85,-.2,1.1,-.45,1.35,-.75,1.45,-1,1.6,-1.25,1.55,-1.35];
var ptsHNPY = [-4.5,-2.9,-4.2,-3.1,-3.9,-3.4,-3.6,-3.6,-3.5,-3.9,-3.1,-4,-2.8,-4.2,-3.2,-4.3,-2.7,-4.4,-3.1,-4.6,-2.9,-4.8,-4.4,-2.7,
    -4,-3.25,-3.75,-3.5,-3.3,-3.85,-3,-4.1,-3,-4.4,-3.15,-4.8,-2.8,-4.6];
var polysH = [polyHPOMC,polyHNPC,polyHDCX,polyHDLX1,polyHSST,polyHIPC,polyHPMCH,polyHNPY];
var ptsH = [ptsHPOMC,ptsHNPC,ptsHDCX,ptsHDLX1,ptsHSST,ptsHIPC,ptsHPMCH,ptsHNPY];

// panel I
var barCats = [0,1,2,3,4];
var barD20 = [48,2,6.4,0,0];
var barD40 = [81.5,6.3,4.6,2.6,0];
var barHuman = [50.5,16,7.8,9.6,8.2];

var traces = [];
var annotations = [];
var shapes = [];
var layout = {
    width: W, height: H, autosize: false,
    margin: {l: 0, r: 0, t: 0, b: 0, pad: 0},
    paper_bgcolor: '#ffffff', plot_bgcolor: 'rgba(0,0,0,0)',
    showlegend: false, hovermode: false,
    font: {family: FONT, color: INK},
    barmode: 'group', bargap: 0.174, bargroupgap: 0.47,
    annotations: annotations, shapes: shapes
};

function xs(flat) { return flat.filter(function(v, i) { return i % 2 === 0; }); }
function ys(flat) { return flat.filter(function(v, i) { return i % 2 === 1; }); }

// closed x or y list for a filled outline, polygons split by null
function ring(polys, pick) {
    var out = [];
    polys.forEach(function(p) {
        var v = pick(p);
        out = out.concat(v, [v[0], null]);
    });
    return out;
}

function setAxes(id, box, xopt, yopt) {
    var sx = {domain: [box.l / W, box.r / W], anchor: 'y' + id, zeroline: false, showgrid: false, automargin: false, tickfont: {family: FONT, color: INK}};
    var sy = {domain: [1 - box.b / H, 1 - box.t / H], anchor: 'x' + id, zeroline: false, showgrid: false, automargin: false, tickfont: {family: FONT, color: INK}};
    layout['xaxis' + id] = Object.assign(sx, xopt);
    layout['yaxis' + id] = Object.assign(sy, yopt);
}

function txt(x, y, text, size, anchor, extra) {
    annotations.push(Object.assign({
        xref: 'paper', yref: 'paper', x: x / W, y: 1 - y / H, text: text, showarrow: false,
        xanchor: anchor || 'center', yanchor: 'middle', borderpad: 0,
        font: {family: FONT, size: size, color: INK}
    }, extra || {}));
}

function dot(x, y, r, color) {
    shapes.push({type: 'circle', xref: 'paper', yref: 'paper', x0: (x - r) / W, x1: (x + r) / W, y0: 1 - (y + r) / H, y1: 1 - (y - r) / H, fillcolor: color, line: {width: 0}});
}

function umapAxisOpts(range, vals, size, extra) {
    return Object.assign({range: range, tickmode: 'array', tickvals: vals, showline: true, linecolor: '#a3a3a3', linewidth: 4, ticks: 'outside', ticklen: 6, tickwidth: 2, tickcolor: '#8c8c8c', tickfont: {family: FONT, size: size, color: '#000'}}, extra || {});
}

// panel A
setAxes('1', {l: 233, r: 939, t: 30, b: 675}, umapAxisOpts([-7.88, 10.1], [-5, 0, 5, 10], 66, {ticklabelstandoff: -18}), umapAxisOpts([-6.16, 5.17], [-6, -3, 0, 3], 66));
polysA.forEach(function(p, c) {
    traces.push({type: 'scatter', mode: 'lines', x: ring([p], xs), y: ring([p], ys), xaxis: 'x1', yaxis: 'y1', fill: 'toself', fillcolor: clusterColors[c], opacity: polyOpacity[c], line: {width: 0}, hoverinfo: 'skip'});
});
ptsA.forEach(function(p, c) {
    traces.push({type: 'scatter', mode: 'markers', x: xs(p), y: ys(p), xaxis: 'x1', yaxis: 'y1', marker: {size: 10, color: clusterColors[c], opacity: .85, line: {width: 0}}, name: clusterNames[c]});
});
traces.push({type: 'scatter', mode: 'text', x: labelAx, y: labelAy, xaxis: 'x1', yaxis: 'y1', text: ['1','2','3','4','5','6','7','8','9','10','11','12','13','14'], textfont: {family: FONT, size: 47, color: '#000'}, textposition: 'middle center'});
txt(633, 801, 'UMAP_1', 69);
txt(76, 398, 'UMAP_2', 69, 'center', {textangle: -90});
var legendAy = [209, 264, 320, 374, 430, 486, 542];
clusterNames.forEach(function(n, i) {
    var col = i < 7 ? 0 : 1;
    var y = legendAy[i % 7];
    dot(col ? 1480 : 969, y, 8, clusterColors[i]);
    txt(col ? 1506 : 996, y, n, 53, 'left');
});

// panel B
setAxes('2', {l: 2408, r: 3155, t: 30, b: 675}, umapAxisOpts([-7.88, 10.12], [-5, 0, 5, 10], 66, {ticklabelstandoff: -22}), umapAxisOpts([-6.16, 5.17], [-6, -3, 0, 3], 66));
polysA.forEach(function(p, c) {
    traces.push({type: 'scatter', mode: 'lines', x: ring([p], xs), y: ring([p], ys), xaxis: 'x2', yaxis: 'y2', fill: 'toself', fillcolor: dayColors[dayPattern[c][0]], opacity: polyOpacity[c] * .6, line: {width: 0}, hoverinfo: 'skip'});
});
ptsA.forEach(function(p, c) {
    var pat = dayPattern[c];
    var colors = xs(p).map(function(v, i) { return dayColors[pat[i % pat.length]]; });
    traces.push({type: 'scatter', mode: 'markers', x: xs(p), y: ys(p), xaxis: 'x2', yaxis: 'y2', marker: {size: 10, color: colors, opacity: .85, line: {width: 0}}});
});
txt(2854, 797, 'UMAP_1', 69);
txt(2257, 336, 'UMAP_2', 69, 'center', {textangle: -90});
dot(3124, 33, 12, dayColors.r);
dot(3124, 80, 12, dayColors.t);
txt(3148, 31, 'D20', 52, 'left');
txt(3148, 78, 'D40', 52, 'left');

// panel C
var geneCenters = [412, 759, 1106, 1451, 1801, 2150, 2492, 2841, 3189];
var geneLefts = [233, 578, 927, 1276, 1623, 1972, 2320, 2668, 3015];
var allX = [], allY = [], allC = [];
ptsA.forEach(function(p, c) {
    xs(p).forEach(function(v) { allX.push(v); allC.push(c); });
    ys(p).forEach(function(v) { allY.push(v); });
});
geneNames.forEach(function(g, i) {
    var id = String(i + 3);
    var yo = {range: [-6.6, 5.7], tickmode: 'array', tickvals: [-6, -3, 0, 3], showline: true, linecolor: '#222', linewidth: 2, ticks: 'outside', ticklen: 5, tickwidth: 3, tickcolor: '#222', showticklabels: i === 0, tickfont: {family: FONT, size: 66, color: '#000'}};
    var xo = {range: [-9, 11.2], tickmode: 'array', tickvals: [-5, 0, 5, 10], ticktext: ['\u22125', '0', '5', ''], showline: true, linecolor: '#6e6e6e', linewidth: 4, ticks: 'outside', ticklen: 6, tickwidth: 2, tickcolor: '#555', ticklabelstandoff: -24, tickfont: {family: FONT, size: 66, color: '#000'}};
    setAxes(id, {l: geneLefts[i], r: geneLefts[i] + 339, t: 1007, b: 1275}, xo, yo);
    traces.push({type: 'scatter', mode: 'lines', x: ring([outlineMain], xs), y: ring([outlineMain], ys), xaxis: 'x' + id, yaxis: 'y' + id, fill: 'toself', fillcolor: geneBackColor[i], line: {width: 0}, hoverinfo: 'skip'});
    traces.push({type: 'scatter', mode: 'lines', x: ring([outlineHole, outlineHole2], xs), y: ring([outlineHole, outlineHole2], ys), xaxis: 'x' + id, yaxis: 'y' + id, fill: 'toself', fillcolor: '#ffffff', line: {width: 0}, hoverinfo: 'skip'});
    traces.push({type: 'scatter', mode: 'markers', x: allX, y: allY, xaxis: 'x' + id, yaxis: 'y' + id, marker: {size: 5, color: allC.map(function(c) { return exprAll[i][c]; }), colorscale: scaleC, cmin: 0, cmax: 3, opacity: .8, line: {width: 0}}});
    txt(geneCenters[i], 943, g, 56);
});
txt(76, 1165, 'UMAP_2', 69, 'center', {textangle: -90});
txt(1684, 1442, 'UMAP_1', 69);
setAxes('12', {l: 2858, r: 3318, t: 1378, b: 1415},
    {range: [-.02, 3.02], tickmode: 'array', tickvals: [0, 1, 2, 3], ticks: 'inside', ticklen: 37, tickwidth: 2, tickcolor: '#ffffff', ticklabelstandoff: -8, tickfont: {family: FONT, size: 58, color: '#000'}},
    {range: [-.5, .5], showticklabels: false, ticks: ''});
traces.push({type: 'heatmap', x: keyC, y: [0], z: [keyC], xaxis: 'x12', yaxis: 'y12', colorscale: scaleC, zmin: 0, zmax: 3, showscale: false});

// panel D
setAxes('13', {l: 236.5, r: 821.5, t: 1593, b: 2566},
    {range: [-.5, 33.5], showticklabels: false, ticks: '', showline: true, mirror: true, linecolor: '#222', linewidth: 2},
    {range: [13.5, -.5], tickmode: 'array', tickvals: genesD.map(function(g, i) { return i; }), ticktext: genesD, ticks: '', ticklabelstandoff: -5, showline: true, mirror: true, linecolor: '#222', linewidth: 2, tickfont: {family: FONT, size: 53, color: INK}});
traces.push({type: 'heatmap', z: heatD, xaxis: 'x13', yaxis: 'y13', colorscale: scaleD, zmin: -3, zmax: 3, showscale: false});
txt(222, 2615, 'Early', 55, 'left');
txt(729, 2615, 'Late', 55, 'left');
annotations.push({xref: 'paper', yref: 'paper', x: 692 / W, y: 1 - 2615 / H, ax: -325, ay: 0, axref: 'pixel', ayref: 'pixel', showarrow: true, arrowhead: 2, arrowsize: 2.6, arrowwidth: 3, arrowcolor: INK});
setAxes('14', {l: 259.5, r: 799, t: 2679, b: 2715},
    {range: [-3, 3], tickmode: 'array', tickvals: [-3, -2, -1, 0, 1, 2, 3], ticks: '', ticklabelstandoff: -12, showline: true, mirror: true, linecolor: '#444', linewidth: 1, tickfont: {family: FONT, size: 60, color: INK}},
    {range: [-.5, .5], showticklabels: false, ticks: '', showline: true, mirror: true, linecolor: '#444', linewidth: 1});
traces.push({type: 'heatmap', x: keyD, y: [0], z: [keyD], xaxis: 'x14', yaxis: 'y14', colorscale: scaleD, zmin: -3, zmax: 3, showscale: false});

// panel E
function addPie(values, cy) {
    traces.push({type: 'pie', values: values, labels: clusterNames, sort: false, direction: 'clockwise', rotation: 0, hole: .495, textinfo: 'none',
        marker: {colors: clusterColors, line: {color: INK, width: 3}},
        domain: {x: [(1199 - 212) / W, (1199 + 212) / W], y: [1 - (cy + 212) / H, 1 - (cy - 212) / H]}});
}
addPie(pieD20, 1847);
addPie(pieD40, 2347);
txt(1199, 1819, 'ARCO', 58);
txt(1199, 1887, 'D20', 58);
txt(1199, 2318, 'ARCO', 58);
txt(1199, 2386, 'D40', 58);
clusterNames.forEach(function(n, i) {
    dot(1497, legendEy[i], 8, clusterColors[i]);
    txt(1525, legendEy[i], n, 53, 'left');
});

// panel F
setAxes('15', {l: 2671, r: 3320, t: 1597, b: 2572},
    {range: [-.5, 13.5], tickmode: 'array', tickvals: colsF.map(function(c, i) { return i; }), ticktext: colsF, tickangle: -90, ticks: '', showline: true, mirror: true, linecolor: '#222', linewidth: 2, tickfont: {family: FONT, size: 48, color: INK}},
    {range: [7.5, -.5], showticklabels: false, ticks: '', showline: true, mirror: true, linecolor: '#222', linewidth: 2});
traces.push({type: 'heatmap', z: heatF, xaxis: 'x15', yaxis: 'y15', colorscale: scaleF, zmin: -3, zmax: 2.5, showscale: false, xgap: 0, ygap: 0});
txt(2657, 1653, 'Arcuate nucleus', 54, 'right');
txt(2657, 1745, 'Posterior', 54, 'right');
txt(2657, 1792, 'hypothalamic area', 54, 'right');
txt(2642, 1869, 'Ventromedial', 54, 'right');
txt(2657, 1916, 'hypothalamic nucleus', 54, 'right');
txt(2657, 1994, 'Paraventricular', 54, 'right');
txt(2657, 2041, 'nucleus', 54, 'right');
txt(2657, 2118, 'Anterior', 54, 'right');
txt(2657, 2165, 'hypothalamic area', 54, 'right');
txt(2657, 2274, 'Mammillary body', 54, 'right');
txt(2657, 2366, 'Lateral hypothalamic', 54, 'right');
txt(2657, 2415, 'area mammillary region', 54, 'right');
txt(2657, 2491, 'Lateral hypothalamic', 54, 'right');
txt(2657, 2538, 'area anterior region', 54, 'right');
txt(3002, 1562, 'ARCO', 57);
txt(3345, 2051, 'Allen brain', 60, 'center', {textangle: -90});
txt(2651, 2702, 'Module Score', 60, 'left');
setAxes('16', {l: 3061, r: 3315, t: 2684, b: 2720},
    {range: [-3, 2], tickmode: 'array', tickvals: [-3, 0, 2], ticks: '', ticklabelstandoff: -12, showline: true, mirror: true, linecolor: '#222', linewidth: 2, tickfont: {family: FONT, size: 58, color: INK}},
    {range: [-.5, .5], showticklabels: false, ticks: '', showline: true, mirror: true, linecolor: '#222', linewidth: 2});
traces.push({type: 'heatmap', x: keyF, y: [0], z: [keyF], xaxis: 'x16', yaxis: 'y16', colorscale: scaleF, zmin: -3, zmax: 2.5, showscale: false});

// panel G
setAxes('17', {l: 236, r: 1102, t: 3006, b: 3709},
    {range: [-.5, 33.5], tickmode: 'array', tickvals: colsG.map(function(c, i) { return i; }), ticktext: colsG, tickangle: -90, ticks: '', showline: true, mirror: true, linecolor: '#222', linewidth: 2, tickfont: {family: FONT, size: 30, color: INK}},
    {range: [6.5, -.5], showticklabels: false, ticks: '', showline: true, mirror: true, linecolor: '#222', linewidth: 2});
traces.push({type: 'heatmap', z: heatG, xaxis: 'x17', yaxis: 'y17', colorscale: scaleG, zmin: .5, zmax: .9, showscale: false});
[13.5, 26.5].forEach(function(v) {
    shapes.push({type: 'line', xref: 'x17', yref: 'y17', x0: v, x1: v, y0: -.5, y1: 6.5, line: {color: '#222', width: 2}});
});
txt(223, 3064, 'SST', 53, 'right');
txt(223, 3140, 'NPY/', 53, 'right');
txt(223, 3187, 'AGRP', 53, 'right');
txt(223, 3263, 'MEG3', 53, 'right');
txt(223, 3339, 'PMCH/', 53, 'right');
txt(223, 3386, 'CARTPT', 53, 'right');
txt(223, 3462, 'POMC', 53, 'right');
txt(223, 3562, 'HDC', 53, 'right');
txt(223, 3639, 'GAL/', 53, 'right');
txt(223, 3686, 'CARTPT', 53, 'right');
txt(220, 3741, 'Cluster', 58, 'right');
txt(709, 2885, 'Organoids', 57);
txt(177, 2915, 'Ventral', 55, 'left');
txt(993, 2915, 'Dorsal', 55, 'left');
annotations.push({xref: 'paper', yref: 'paper', x: 366 / W, y: 1 - 2920 / H, ax: 592, ay: 0, axref: 'pixel', ayref: 'pixel', showarrow: true, arrowhead: 2, arrowsize: 2.6, arrowwidth: 3, arrowcolor: INK});
txt(414, 2976, 'ARCO', 59);
txt(755, 2976, 'Tha.O', 59);
txt(1018, 2976, 'CO', 59);
txt(1131, 3372, 'Primary human ARC', 60, 'center', {textangle: -90});
txt(566, 3895, 'Spearman', 59, 'left');
setAxes('18', {l: 901, r: 1096, t: 3882, b: 3916},
    {range: [.5, .9], showticklabels: false, ticks: '', showline: true, mirror: true, linecolor: '#444', linewidth: 1},
    {range: [-.5, .5], showticklabels: false, ticks: '', showline: true, mirror: true, linecolor: '#444', linewidth: 1});
traces.push({type: 'heatmap', x: keyG, y: [0], z: [keyG], xaxis: 'x18', yaxis: 'y18', colorscale: scaleG, zmin: .5, zmax: .9, showscale: false});
txt(912, 3955, '0.5', 58);
txt(1102, 3955, '0.9', 58);

// panel H
function blackAxis(range, vals, ticktext, standoff) {
    var o = {range: range, tickmode: 'array', tickvals: vals, showline: true, linecolor: '#000', linewidth: 4, ticks: 'outside', ticklen: 9, tickwidth: 4, tickcolor: '#000', tickfont: {family: FONT, size: 66, color: '#000'}};
    if (ticktext) { o.ticktext = ticktext; }
    if (standoff) { o.ticklabelstandoff = standoff; }
    return o;
}
setAxes('19', {l: 1482, r: 2307, t: 2902, b: 3713}, blackAxis([-9.567, 8.77], [-5, 0, 5], null, -16),
    blackAxis([-5.386, 5.4], [-5, -2.5, 0, 2.5, 5], ['\u22125.0', '\u22122.5', '0.0', '2.5', '5.0']));
polysH.forEach(function(p, c) {
    traces.push({type: 'scatter', mode: 'lines', x: ring(p, xs), y: ring(p, ys), xaxis: 'x19', yaxis: 'y19', fill: 'toself', fillcolor: colorsH[c], opacity: opacH[c], line: {width: 0}, hoverinfo: 'skip'});
});
ptsH.forEach(function(p, c) {
    traces.push({type: 'scatter', mode: 'markers', x: xs(p), y: ys(p), xaxis: 'x19', yaxis: 'y19', marker: {size: 11, color: colorsH[c], opacity: .85, line: {width: 0}}, name: namesH[c]});
});
txt(1908, 3846, 'UMAP_1', 69);
txt(1280, 3315, 'UMAP_2', 69, 'center', {textangle: -90});
txt(2013, 2976, 'DLX1', 53);
txt(2013, 3012, 'Neuron', 53);
txt(1816, 3028, 'SST', 53);
txt(1816, 3066, 'Neuron', 53);
txt(2108, 3238, 'POMC', 53);
txt(2108, 3275, 'Neuron', 53);
txt(1631, 3378, 'NPC', 53);
txt(1828, 3346, 'IPC', 53);
txt(1960, 3543, 'DCX', 53);
txt(1960, 3581, 'Neuron', 53);
txt(1749, 3633, 'NPY/AGRP', 53);
txt(1749, 3670, 'Neuron', 53);
txt(2216, 3648, 'PMCH/CARTP', 53);
txt(2216, 3686, 'Neuron', 53);
annotations.push({xref: 'x19', yref: 'y19', x: 1.34, y: -.92, ax: 5.77, ay: -4.06, axref: 'x19', ayref: 'y19', showarrow: true, arrowhead: 2, arrowsize: 2.4, arrowwidth: 2.5, arrowcolor: INK});

// panel I
setAxes('20', {l: 2670, r: 3300, t: 3052, b: 3713},
    {range: [-.445, 4.476], tickmode: 'array', tickvals: barCats, showticklabels: false, showline: true, linecolor: INK, linewidth: 4, ticks: 'outside', ticklen: 26, tickwidth: 3, tickcolor: INK},
    {range: [0, 100], tickmode: 'array', tickvals: [0, 20, 40, 60, 80, 100], showline: true, linecolor: INK, linewidth: 4, ticks: 'outside', ticklen: 18, tickwidth: 3, tickcolor: INK, tickfont: {family: FONT, size: 66, color: '#000'}});
[[barD20, '#f9a3a4', 'ARCO D20'], [barD40, '#97dcf7', 'ARCO D40'], [barHuman, '#bcbdbf', 'Human ARC']].forEach(function(s) {
    traces.push({type: 'bar', x: barCats, y: s[0], name: s[2], xaxis: 'x20', yaxis: 'y20', marker: {color: s[1], line: {color: INK, width: 3}}});
});
[['ARCO D20', '#f9a3a4', 2867, 2892, 2876], ['ARCO D40', '#97dcf7', 2938, 2963, 2947], ['Human ARC', '#bcbdbf', 3008, 3034, 3017]].forEach(function(k) {
    shapes.push({type: 'rect', xref: 'paper', yref: 'paper', x0: 2799 / W, x1: 2860 / W, y0: 1 - k[3] / H, y1: 1 - k[2] / H, fillcolor: k[1], line: {color: INK, width: 3}});
    txt(2879, k[4], k[0], 57, 'left');
});
txt(2476, 3382, 'Marker<sup><span style="font-size:36px">+</span></sup>/all neurons (%)', 70, 'center', {textangle: -90});
txt(2698, 3825, 'POMC', 60, 'center', {textangle: -40});
txt(2870, 3795, 'SST', 60, 'center', {textangle: -40});
txt(2972, 3825, 'DLX1', 60, 'center', {textangle: -40});
txt(3050, 3869, 'PMCH/', 60, 'center', {textangle: -40});
txt(3090, 3908, 'CARTPT', 60, 'center', {textangle: -40});
txt(3257, 3836, 'NPY/', 60, 'center', {textangle: -40});
txt(3291, 3881, 'AGRP', 60, 'center', {textangle: -40});

// panel letters
[['A', 37, 38], ['B', 2152, 36], ['C', 40, 916], ['D', 37, 1564], ['E', 1010, 1564], ['F', 2106, 1564], ['G', 40, 2870], ['H', 1255, 2871], ['I', 2450, 2871]].forEach(function(l) {
    txt(l[1], l[2], '<b>' + l[0] + '</b>', 105);
});

Plotly.newPlot('fig', traces, layout, {staticPlot: true, displayModeBar: false});
</script>
</body>
</html>
